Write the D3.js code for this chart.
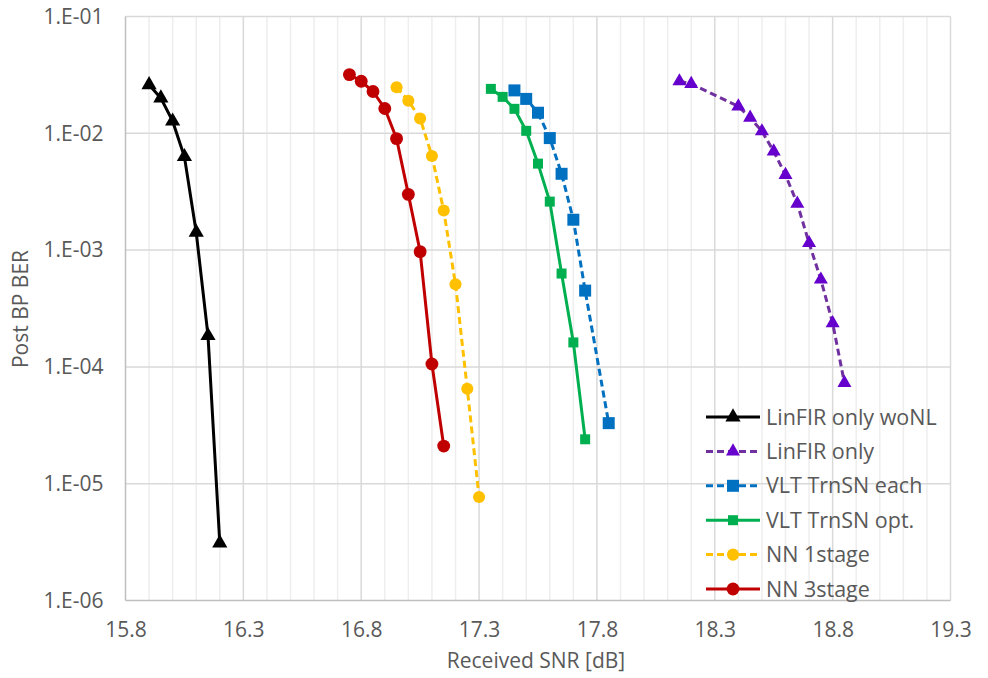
<!DOCTYPE html>
<html>
<head>
<meta charset="utf-8">
<script src="https://cdn.jsdelivr.net/npm/d3@7"></script>
<style>
  body { margin: 0; background: #fff; }
  text { font-family: "Open Sans", sans-serif; fill: #595959; }
</style>
</head>
<body>
<div id="chart"></div>
<script>
const width = 988, height = 678;

// series data
const names = ["LinFIR only woNL", "LinFIR only", "VLT TrnSN each", "VLT TrnSN opt.", "NN 1stage", "NN 3stage"];

const snr_woNL = [15.9, 15.95, 16.0, 16.05, 16.1, 16.15, 16.2];
const ber_woNL = [2.6e-2, 2.0e-2, 1.27e-2, 6.3e-3, 1.42e-3, 1.85e-4, 3.1e-6];

const snr_lin = [18.15, 18.2, 18.4, 18.45, 18.5, 18.55, 18.6, 18.65, 18.7, 18.75, 18.8, 18.85];
const ber_lin = [2.79e-2, 2.65e-2, 1.7e-2, 1.36e-2, 1.04e-2, 7.0e-3, 4.4e-3, 2.5e-3, 1.15e-3, 5.6e-4, 2.37e-4, 7.3e-5];

const snr_each = [17.45, 17.5, 17.55, 17.6, 17.65, 17.7, 17.75, 17.85];
const ber_each = [2.33e-2, 1.97e-2, 1.5e-2, 9.1e-3, 4.5e-3, 1.82e-3, 4.5e-4, 3.3e-5];

const snr_opt = [17.35, 17.4, 17.45, 17.5, 17.55, 17.6, 17.65, 17.7, 17.75];
const ber_opt = [2.4e-2, 2.05e-2, 1.62e-2, 1.05e-2, 5.5e-3, 2.6e-3, 6.3e-4, 1.62e-4, 2.4e-5];

const snr_nn1 = [16.95, 17.0, 17.05, 17.1, 17.15, 17.2, 17.25, 17.3];
const ber_nn1 = [2.48e-2, 1.9e-2, 1.34e-2, 6.4e-3, 2.18e-3, 5.1e-4, 6.5e-5, 7.7e-6];

const snr_nn3 = [16.75, 16.8, 16.85, 16.9, 16.95, 17.0, 17.05, 17.1, 17.15];
const ber_nn3 = [3.18e-2, 2.79e-2, 2.28e-2, 1.63e-2, 9.0e-3, 3.0e-3, 9.7e-4, 1.06e-4, 2.1e-5];

const xTicks = [15.8, 16.3, 16.8, 17.3, 17.8, 18.3, 18.8, 19.3];
const yTicks = [1e-1, 1e-2, 1e-3, 1e-4, 1e-5, 1e-6];

const style = [
  {line: "#000000", mark: "#000000", dash: null,  sym: d3.symbolTriangle, size: 100},
  {line: "#7030A0", mark: "#6600CC", dash: "7,4", sym: d3.symbolTriangle, size: 85},
  {line: "#0070C0", mark: "#0070C0", dash: "7,4", sym: d3.symbolSquare,   size: 144},
  {line: "#00B050", mark: "#00B050", dash: null,  sym: d3.symbolSquare,   size: 100},
  {line: "#FFC000", mark: "#FFC000", dash: "7,4", sym: d3.symbolCircle,   size: 115},
  {line: "#C00000", mark: "#C00000", dash: null,  sym: d3.symbolCircle,   size: 130}
];

const series = [
  [snr_woNL, ber_woNL], [snr_lin, ber_lin], [snr_each, ber_each],
  [snr_opt, ber_opt], [snr_nn1, ber_nn1], [snr_nn3, ber_nn3]
].map(([xs, ys], i) => ({name: names[i], st: style[i], pts: xs.map((x, j) => ({x: x, y: ys[j]}))}));

const x = d3.scaleLinear().domain([15.8, 19.3]).range([125.5, 950.5]);
const y = d3.scaleLog().domain([1e-6, 1e-1]).range([600.5, 16.5]);

const svg = d3.select("#chart").append("svg")
  .attr("width", width).attr("height", height);

// minor vertical grid every 0.1
const minor = d3.range(0, 36).map(i => +(15.8 + i * 0.1).toFixed(1));
svg.append("g").selectAll("line")
  .data(minor.filter(v => !xTicks.includes(v)))
  .enter().append("line")
  .attr("x1", d => x(d)).attr("x2", d => x(d))
  .attr("y1", y(1e-1)).attr("y2", y(1e-6))
  .attr("stroke", "#eeeeee").attr("stroke-width", 1.5);

// major grid
svg.append("g").selectAll("line")
  .data(xTicks.slice(1))
  .enter().append("line")
  .attr("x1", d => x(d)).attr("x2", d => x(d))
  .attr("y1", y(1e-1)).attr("y2", y(1e-6))
  .attr("stroke", "#d9d9d9").attr("stroke-width", 1.5);

svg.append("g").selectAll("line")
  .data(yTicks.slice(0, -1))
  .enter().append("line")
  .attr("x1", x(15.8)).attr("x2", x(19.3))
  .attr("y1", d => y(d)).attr("y2", d => y(d))
  .attr("stroke", "#d9d9d9").attr("stroke-width", 1.5);

// axis lines
svg.append("line")
  .attr("x1", x(15.8)).attr("x2", x(15.8)).attr("y1", y(1e-1)).attr("y2", y(1e-6))
  .attr("stroke", "#bfbfbf").attr("stroke-width", 1.5);
svg.append("line")
  .attr("x1", x(15.8)).attr("x2", x(19.3)).attr("y1", y(1e-6)).attr("y2", y(1e-6))
  .attr("stroke", "#bfbfbf").attr("stroke-width", 1.5);

// tick labels via d3 axes
const gx = svg.append("g").attr("transform", `translate(0,${y(1e-6)})`)
  .call(d3.axisBottom(x).tickValues(xTicks).tickFormat(d3.format(".1f")).tickSize(0).tickPadding(22));
const gy = svg.append("g").attr("transform", `translate(${x(15.8)},0)`)
  .call(d3.axisLeft(y).tickValues(yTicks)
    .tickFormat(d => "1.E-" + d3.format("02d")(Math.round(-Math.log10(d))))
    .tickSize(0).tickPadding(22));
[gx, gy].forEach(g => {
  g.select(".domain").remove();
  g.selectAll("text").style("font-size", "21px").attr("fill", "#595959")
    .style("font-family", '"Open Sans", sans-serif');
});

// axis titles
svg.append("text").attr("x", 536).attr("y", 668)
  .attr("text-anchor", "middle").style("font-size", "21px")
  .text("Received SNR [dB]");
svg.append("text")
  .attr("transform", "translate(28,309) rotate(-90)")
  .attr("text-anchor", "middle").style("font-size", "21px")
  .text("Post BP BER");

// series
const lineGen = d3.line().x(d => x(d.x)).y(d => y(d.y));
const g_series = svg.append("g");
series.forEach(s => {
  const g = g_series.append("g");
  g.append("path").datum(s.pts)
    .attr("d", lineGen)
    .attr("fill", "none")
    .attr("stroke", s.st.line)
    .attr("stroke-width", 3)
    .attr("stroke-dasharray", s.st.dash);
  g.selectAll("path.mk").data(s.pts).enter().append("path").attr("class", "mk")
    .attr("transform", d => `translate(${x(d.x)},${y(d.y)})`)
    .attr("d", d3.symbol().type(s.st.sym).size(s.st.size))
    .attr("fill", s.st.mark);
});

// legend
const legend = svg.append("g").attr("transform", "translate(706,417)");
series.forEach((s, i) => {
  const row = legend.append("g").attr("transform", `translate(0,${i * 34.4})`);
  row.append("line").attr("x1", 0).attr("x2", 54).attr("y1", 0).attr("y2", 0)
    .attr("stroke", s.st.line).attr("stroke-width", 3)
    .attr("stroke-dasharray", s.st.dash);
  row.append("path").attr("transform", "translate(27,0)")
    .attr("d", d3.symbol().type(s.st.sym).size(s.st.size))
    .attr("fill", s.st.mark);
  row.append("text").attr("x", 60).attr("y", 0).attr("dy", "0.35em")
    .style("font-size", "21.5px").text(s.name);
});
</script>
</body>
</html>
